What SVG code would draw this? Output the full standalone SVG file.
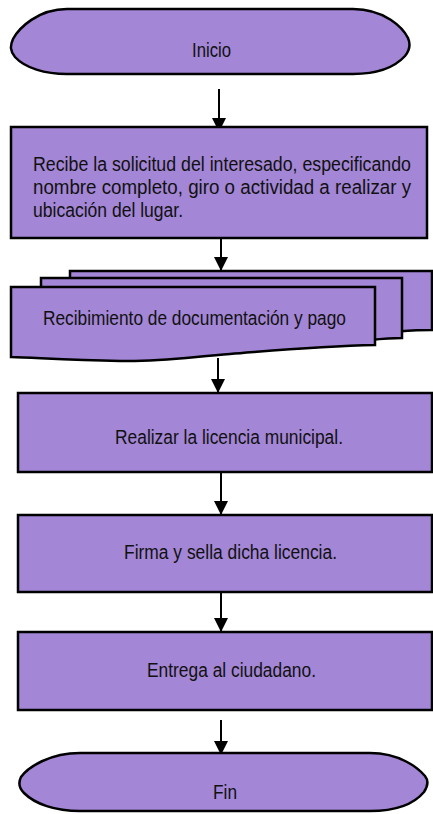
<svg xmlns="http://www.w3.org/2000/svg" width="433" height="814" viewBox="0 0 433 814">
<style>
.s{fill:#A386D5;stroke:#000;stroke-width:2.5;stroke-linejoin:miter}
.t{font-family:"Liberation Sans",Arial,sans-serif;font-size:21px;fill:#111}
.c{stroke:#000;stroke-width:2;fill:none}
</style>
<defs>
<marker id="ah" markerWidth="7" markerHeight="7" refX="7" refY="3.5" orient="auto" markerUnits="strokeWidth">
<path d="M0,0 L7,3.5 L0,7 Z" fill="#000"/>
</marker>
</defs>
<rect width="433" height="814" fill="#fff"/>
<g id="connectors">
<line class="c" x1="219" y1="89" x2="219" y2="132" marker-end="url(#ah)"/>
<line class="c" x1="221" y1="239" x2="221" y2="271" marker-end="url(#ah)"/>
<line class="c" x1="218" y1="358" x2="218" y2="393" marker-end="url(#ah)"/>
<line class="c" x1="221" y1="473" x2="221" y2="515" marker-end="url(#ah)"/>
<line class="c" x1="221" y1="592" x2="221" y2="632" marker-end="url(#ah)"/>
<line class="c" x1="221" y1="720" x2="221" y2="755" marker-end="url(#ah)"/>
</g>
<g id="inicio">
<path class="s" d="M67,9 H353 C385,9 403,28 408,38 C411,45 410,50 405,56 C394,68 375,74 353,74 H67 C45,74 25,68 15,57 C10,51 10,46 13,39 C19,28 38,9 67,9 Z"/>
<text class="t" transform="matrix(0.84 0 0 1 192 57)" textLength="46.4" lengthAdjust="spacingAndGlyphs">Inicio</text>
</g>
<g id="recibe">
<rect class="s" x="11" y="127" width="416" height="111"/>
<text class="t" transform="matrix(0.84 0 0 1 33 171)" textLength="450" lengthAdjust="spacingAndGlyphs">Recibe la solicitud del interesado, especificando</text>
<text class="t" transform="matrix(0.84 0 0 1 33 194)" textLength="450" lengthAdjust="spacingAndGlyphs">nombre completo, giro o actividad a realizar y</text>
<text class="t" transform="matrix(0.84 0 0 1 33 217)" textLength="178.6" lengthAdjust="spacingAndGlyphs">ubicación del lugar.</text>
</g>
<g id="documentos">
<path class="s" d="M70,271 H432 V330 C415,330 405,331 390,332 L70,340 Z"/>
<path class="s" d="M41,278 H402 V338 C390,338 380,339 370,340 L41,348 Z"/>
<path class="s" d="M11,287 H375 V345 C320,346 280,350 230,354 C190,357 160,362 120,361 C70,360 40,358 11,357 Z"/>
<text class="t" transform="matrix(0.84 0 0 1 43 325)" textLength="360.7" lengthAdjust="spacingAndGlyphs">Recibimiento de documentación y pago</text>
</g>
<g id="realizar">
<rect class="s" x="18" y="393" width="414" height="79"/>
<text class="t" transform="matrix(0.84 0 0 1 115 444)" textLength="271.4" lengthAdjust="spacingAndGlyphs">Realizar la licencia municipal.</text>
</g>
<g id="firma">
<rect class="s" x="18" y="515" width="414" height="77"/>
<text class="t" transform="matrix(0.84 0 0 1 124 559)" textLength="253.6" lengthAdjust="spacingAndGlyphs">Firma y sella dicha licencia.</text>
</g>
<g id="entrega">
<rect class="s" x="18" y="632" width="414" height="78"/>
<text class="t" transform="matrix(0.84 0 0 1 147 677)" textLength="201.2" lengthAdjust="spacingAndGlyphs">Entrega al ciudadano.</text>
</g>
<g id="fin">
<path class="s" d="M80,753 H370 C400,753 418,768 425,776 C429,781 428,786 424,792 C414,804 395,811 370,811 H80 C55,811 35,804 24,793 C19,788 18,783 21,777 C28,767 50,753 80,753 Z"/>
<text class="t" transform="matrix(0.84 0 0 1 213 799)" textLength="28.6" lengthAdjust="spacingAndGlyphs">Fin</text>
</g>
</svg>
